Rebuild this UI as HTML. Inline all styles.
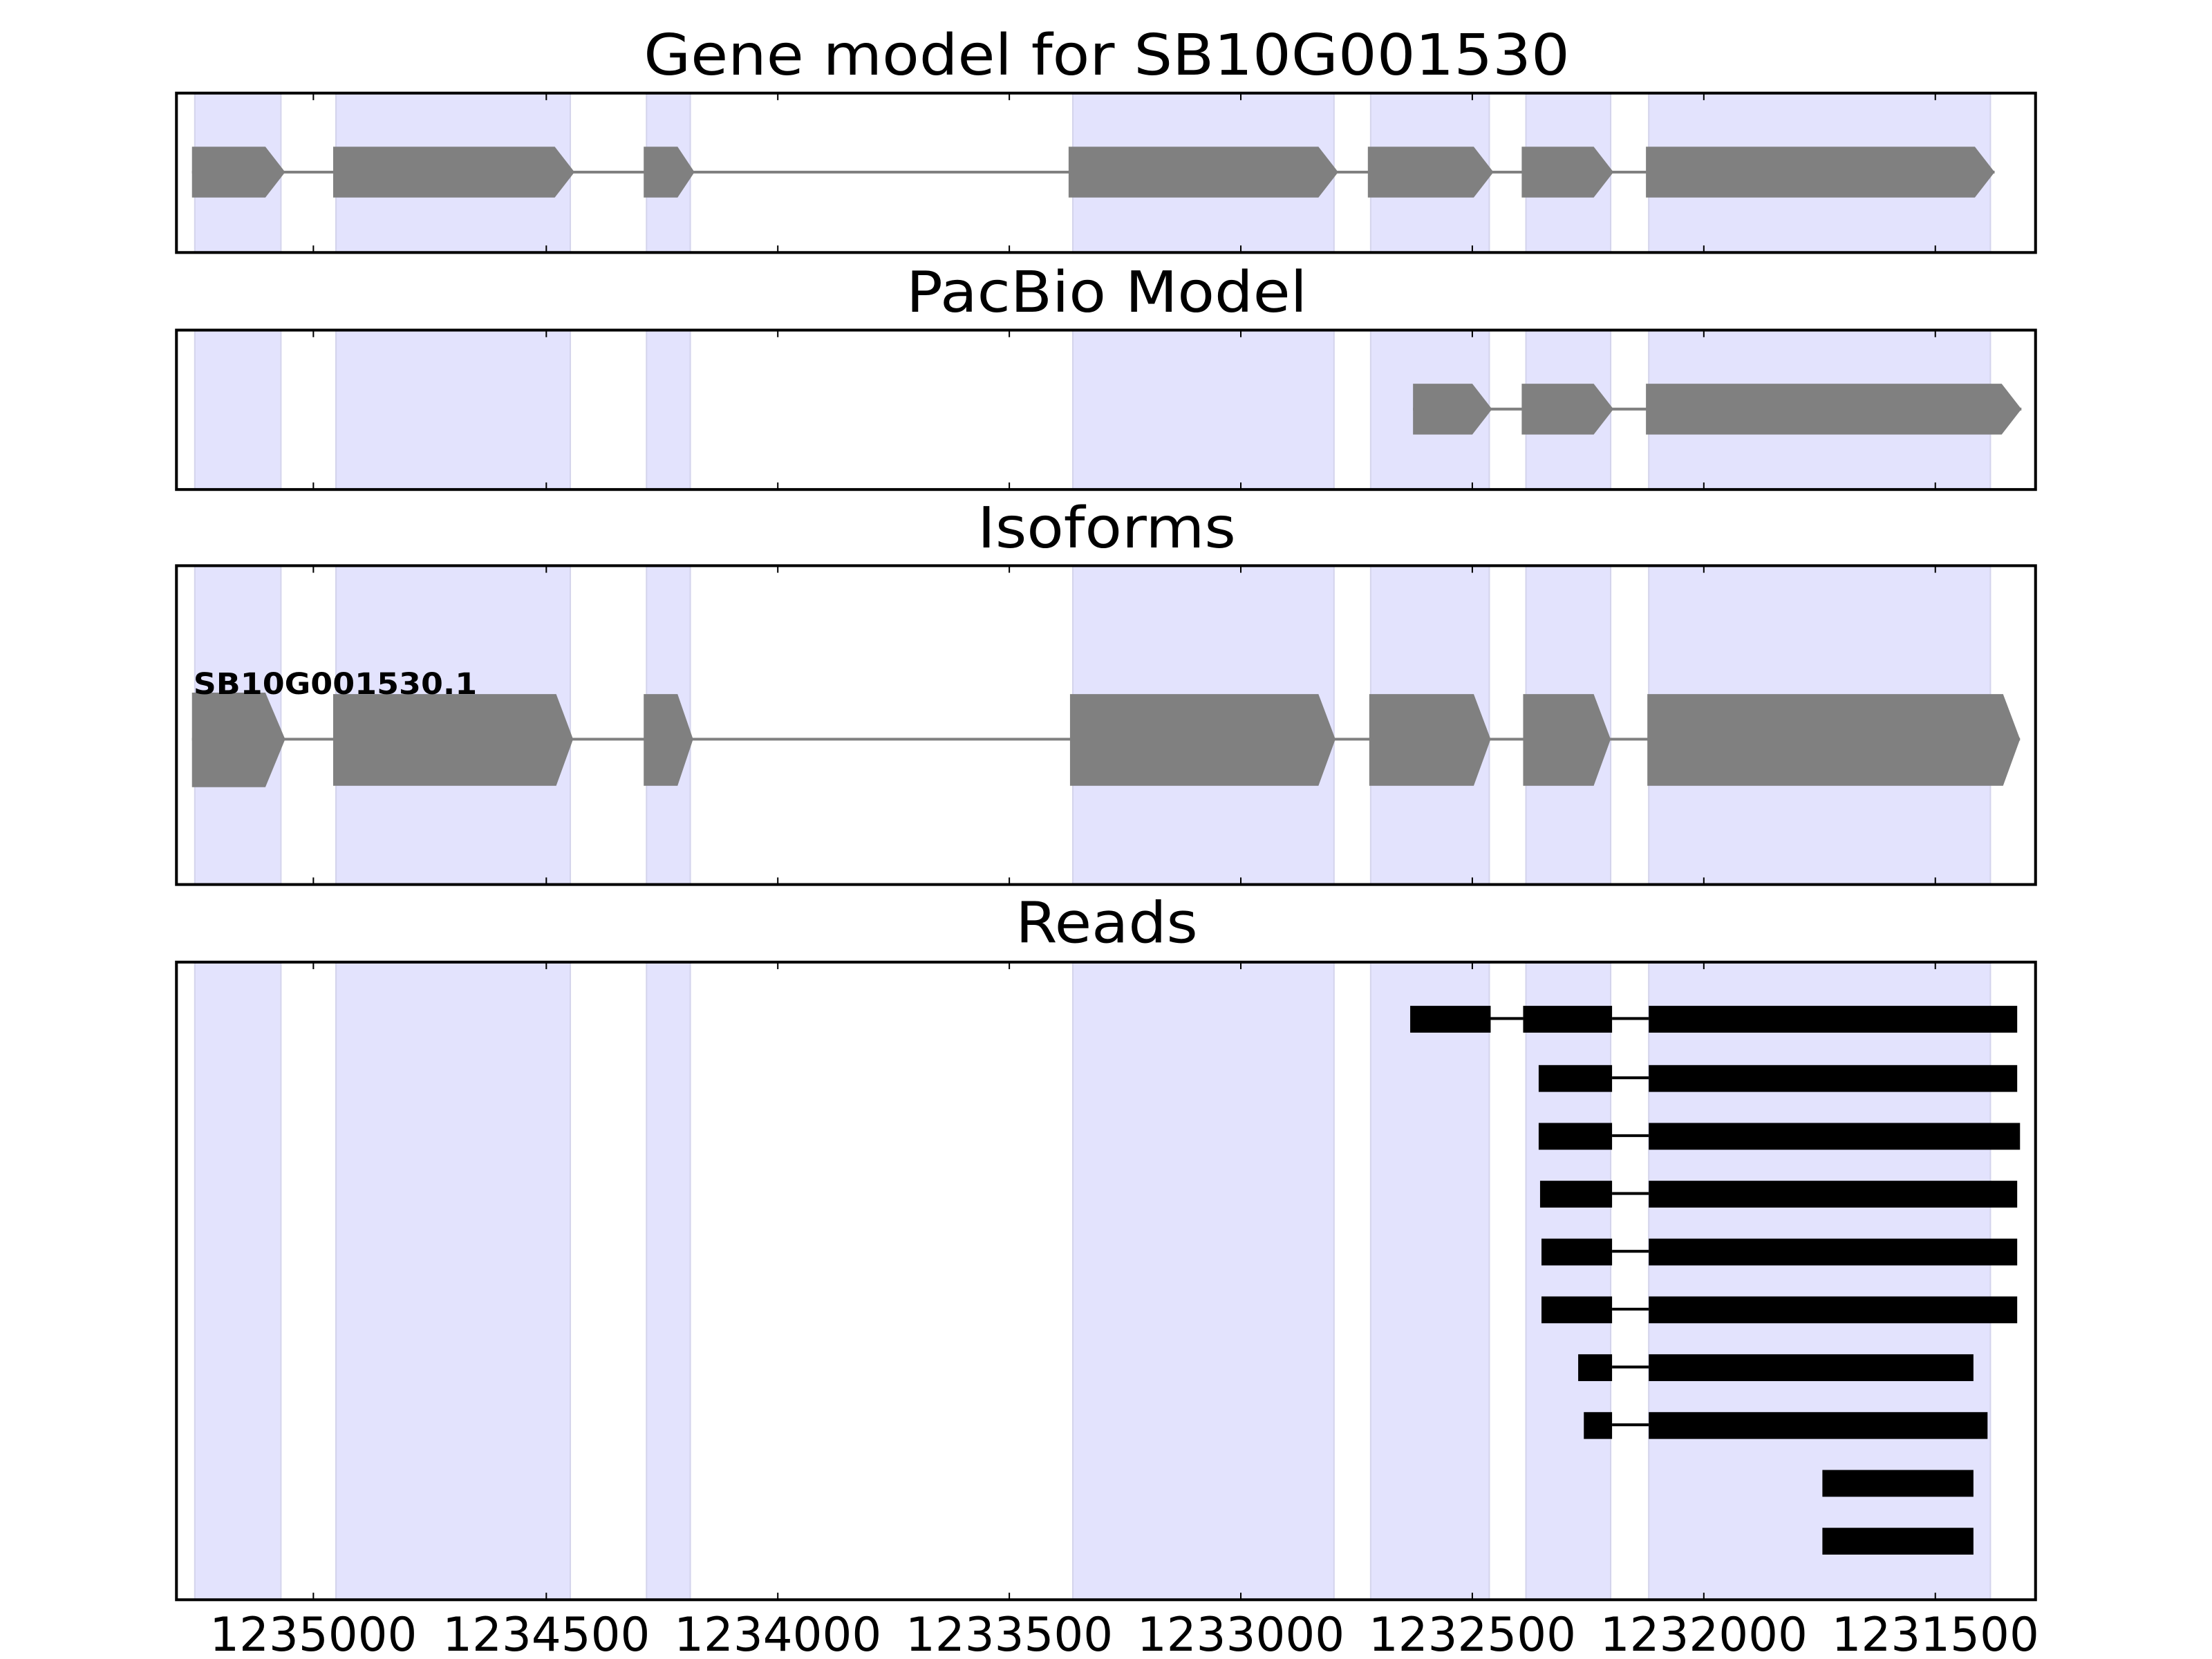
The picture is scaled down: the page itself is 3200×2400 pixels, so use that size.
<!DOCTYPE html>
<html><head><meta charset="utf-8"><style>html,body{margin:0;padding:0;background:#fff;overflow:hidden}svg{display:block}</style></head>
<body>
<svg xmlns="http://www.w3.org/2000/svg" width="3200" height="2400" viewBox="0 0 1567 1176" preserveAspectRatio="none" font-family="DejaVu Sans, Liberation Sans, sans-serif">
<defs>
<g id="shade">
<rect x="138" width="61" height="1000" fill="#e3e3fd" stroke="#d4d4ec" stroke-width="1"/>
<rect x="238" width="166" height="1000" fill="#e3e3fd" stroke="#d4d4ec" stroke-width="1"/>
<rect x="458" width="31" height="1000" fill="#e3e3fd" stroke="#d4d4ec" stroke-width="1"/>
<rect x="760" width="185" height="1000" fill="#e3e3fd" stroke="#d4d4ec" stroke-width="1"/>
<rect x="971" width="84" height="1000" fill="#e3e3fd" stroke="#d4d4ec" stroke-width="1"/>
<rect x="1081" width="60" height="1000" fill="#e3e3fd" stroke="#d4d4ec" stroke-width="1"/>
<rect x="1168" width="242" height="1000" fill="#e3e3fd" stroke="#d4d4ec" stroke-width="1"/>
</g>
<g id="ticks" stroke="#000" stroke-width="1">
<line x1="222" x2="222" y1="0" y2="5"/><line x1="387" x2="387" y1="0" y2="5"/><line x1="551" x2="551" y1="0" y2="5"/><line x1="715" x2="715" y1="0" y2="5"/><line x1="879" x2="879" y1="0" y2="5"/><line x1="1043" x2="1043" y1="0" y2="5"/><line x1="1207" x2="1207" y1="0" y2="5"/><line x1="1371" x2="1371" y1="0" y2="5"/>
</g>
<clipPath id="c1"><rect x="125" y="66" width="1317" height="113"/></clipPath>
<clipPath id="c2"><rect x="125" y="234" width="1317" height="113"/></clipPath>
<clipPath id="c3"><rect x="125" y="401" width="1317" height="226"/></clipPath>
<clipPath id="c4"><rect x="125" y="682" width="1317" height="452"/></clipPath>
</defs>

<!-- titles -->
<g font-size="40" text-anchor="middle" fill="#000">
<text x="784" y="53" textLength="656" lengthAdjust="spacingAndGlyphs">Gene model for SB10G001530</text>
<text x="784" y="221" textLength="284" lengthAdjust="spacingAndGlyphs">PacBio Model</text>
<text x="784" y="388" textLength="183" lengthAdjust="spacingAndGlyphs">Isoforms</text>
<text x="784" y="668" textLength="129" lengthAdjust="spacingAndGlyphs">Reads</text>
</g>

<!-- Axes 1 -->
<g clip-path="url(#c1)"><use href="#shade" transform="translate(0,66)"/></g>
<g fill="#808080">
<line x1="136" x2="1413" y1="122" y2="122" stroke="#808080" stroke-width="2"/>
<polygon points="136,104 188,104 202,122 188,140 136,140"/>
<polygon points="236,104 393,104 407,122 393,140 236,140"/>
<polygon points="456,104 480,104 492,122 480,140 456,140"/>
<polygon points="757,104 934,104 948,122 934,140 757,140"/>
<polygon points="969,104 1044,104 1058,122 1044,140 969,140"/>
<polygon points="1078,104 1129,104 1143,122 1129,140 1078,140"/>
<polygon points="1166,104 1399,104 1413,122 1399,140 1166,140"/>
</g>
<use href="#ticks" transform="translate(0,66)"/><use href="#ticks" transform="translate(0,179) scale(1,-1)"/>
<rect x="125" y="66" width="1317" height="113" fill="none" stroke="#000" stroke-width="2"/>

<!-- Axes 2 -->
<g clip-path="url(#c2)"><use href="#shade" transform="translate(0,234)"/></g>
<g fill="#808080">
<line x1="1001" x2="1432" y1="290" y2="290" stroke="#808080" stroke-width="2"/>
<polygon points="1001,272 1043,272 1057,290 1043,308 1001,308"/>
<polygon points="1078,272 1129,272 1143,290 1129,308 1078,308"/>
<polygon points="1166,272 1418,272 1432,290 1418,308 1166,308"/>
</g>
<use href="#ticks" transform="translate(0,234)"/><use href="#ticks" transform="translate(0,347) scale(1,-1)"/>
<rect x="125" y="234" width="1317" height="113" fill="none" stroke="#000" stroke-width="2"/>

<!-- Axes 3 -->
<g clip-path="url(#c3)"><use href="#shade" transform="translate(0,401)"/></g>
<g fill="#808080">
<line x1="136" x2="1431" y1="524" y2="524" stroke="#808080" stroke-width="2"/>
<polygon points="136,491 188,491 202,524 188,558 136,558"/>
<polygon points="236,492 394,492 406,524 394,557 236,557"/>
<polygon points="456,492 480,492 491,524 480,557 456,557"/>
<polygon points="758,492 934,492 946,524 934,557 758,557"/>
<polygon points="970,492 1044,492 1056,524 1044,557 970,557"/>
<polygon points="1079,492 1129,492 1141,524 1129,557 1079,557"/>
<polygon points="1167,492 1419,492 1431,524 1419,557 1167,557"/>
</g>
<text x="137" y="492" font-size="21" font-weight="bold" fill="#000" textLength="201" lengthAdjust="spacingAndGlyphs">SB10G001530.1</text>
<use href="#ticks" transform="translate(0,401)"/><use href="#ticks" transform="translate(0,627) scale(1,-1)"/>
<rect x="125" y="401" width="1317" height="226" fill="none" stroke="#000" stroke-width="2"/>

<!-- Axes 4 -->
<g clip-path="url(#c4)"><use href="#shade" transform="translate(0,682)"/></g>
<g fill="#000" stroke="#000" stroke-width="2">
<line x1="1056" x2="1079" y1="722" y2="722"/><line x1="1142" x2="1168" y1="722" y2="722"/>
<rect x="999" y="713" width="57" height="19" stroke="none"/><rect x="1079" y="713" width="63" height="19" stroke="none"/><rect x="1168" y="713" width="261" height="19" stroke="none"/>

<line x1="1142" x2="1168" y1="764" y2="764"/>
<rect x="1090" y="755" width="52" height="19" stroke="none"/><rect x="1168" y="755" width="261" height="19" stroke="none"/>

<line x1="1142" x2="1168" y1="805" y2="805"/>
<rect x="1090" y="796" width="52" height="19" stroke="none"/><rect x="1168" y="796" width="263" height="19" stroke="none"/>

<line x1="1142" x2="1168" y1="846" y2="846"/>
<rect x="1091" y="837" width="51" height="19" stroke="none"/><rect x="1168" y="837" width="261" height="19" stroke="none"/>

<line x1="1142" x2="1168" y1="887" y2="887"/>
<rect x="1092" y="878" width="50" height="19" stroke="none"/><rect x="1168" y="878" width="261" height="19" stroke="none"/>

<line x1="1142" x2="1168" y1="928" y2="928"/>
<rect x="1092" y="919" width="50" height="19" stroke="none"/><rect x="1168" y="919" width="261" height="19" stroke="none"/>

<line x1="1142" x2="1168" y1="969" y2="969"/>
<rect x="1118" y="960" width="24" height="19" stroke="none"/><rect x="1168" y="960" width="230" height="19" stroke="none"/>

<line x1="1142" x2="1168" y1="1010" y2="1010"/>
<rect x="1122" y="1001" width="20" height="19" stroke="none"/><rect x="1168" y="1001" width="240" height="19" stroke="none"/>

<rect x="1291" y="1042" width="107" height="19" stroke="none"/>
<rect x="1291" y="1083" width="107" height="19" stroke="none"/>
</g>
<use href="#ticks" transform="translate(0,682)"/><use href="#ticks" transform="translate(0,1134) scale(1,-1)"/>
<rect x="125" y="682" width="1317" height="452" fill="none" stroke="#000" stroke-width="2"/>

<!-- tick labels -->
<g font-size="33" text-anchor="middle" fill="#000">
<text x="222" y="1170" textLength="147" lengthAdjust="spacingAndGlyphs">1235000</text>
<text x="387" y="1170" textLength="147" lengthAdjust="spacingAndGlyphs">1234500</text>
<text x="551" y="1170" textLength="147" lengthAdjust="spacingAndGlyphs">1234000</text>
<text x="715" y="1170" textLength="147" lengthAdjust="spacingAndGlyphs">1233500</text>
<text x="879" y="1170" textLength="147" lengthAdjust="spacingAndGlyphs">1233000</text>
<text x="1043" y="1170" textLength="147" lengthAdjust="spacingAndGlyphs">1232500</text>
<text x="1207" y="1170" textLength="147" lengthAdjust="spacingAndGlyphs">1232000</text>
<text x="1371" y="1170" textLength="147" lengthAdjust="spacingAndGlyphs">1231500</text>
</g>
</svg>
</body></html>
